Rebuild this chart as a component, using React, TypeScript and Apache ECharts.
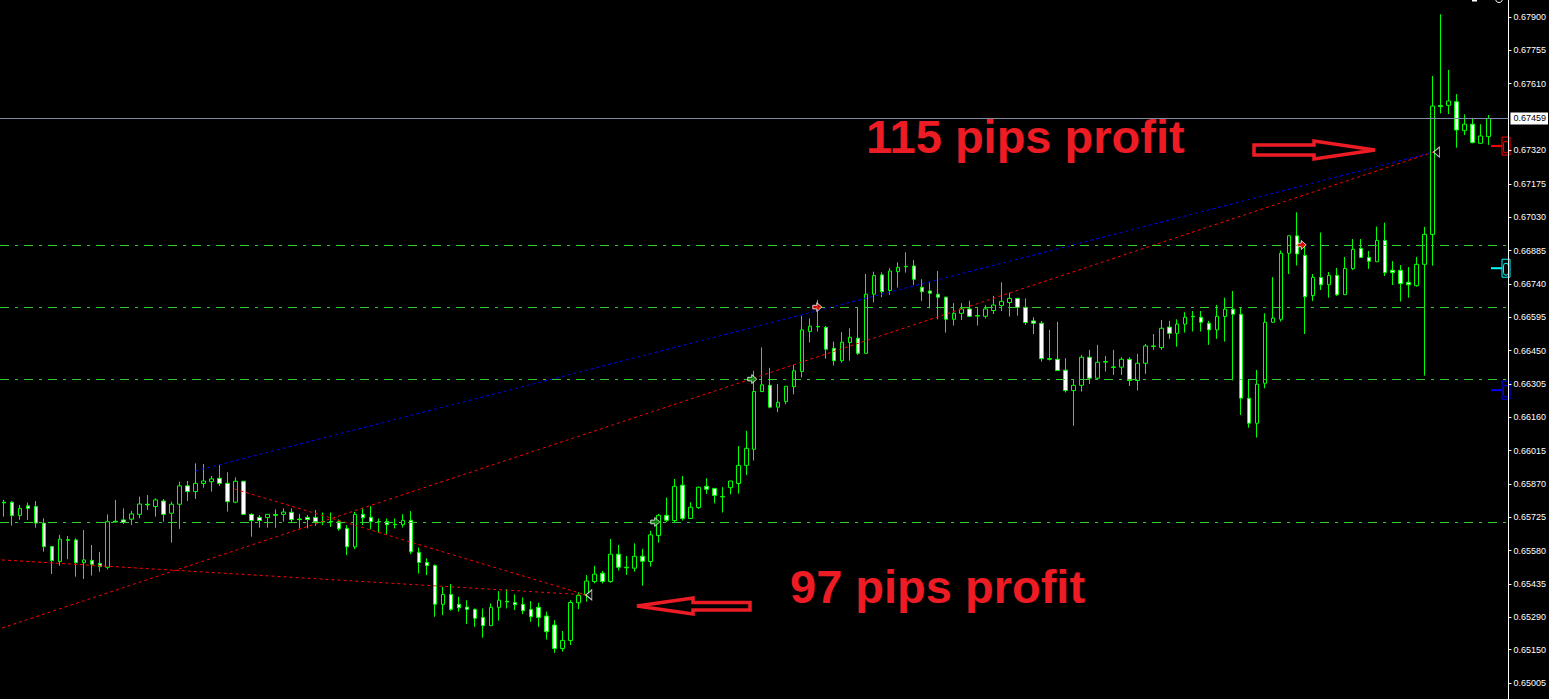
import React, { useEffect, useRef } from "react";
import * as echarts from "echarts";

// ---- candle data (index i = bar number from the left) ----
const opens = [
  0.65791, 0.65791, 0.65733, 0.65775, 0.65772, 0.657, 0.65598, 0.65533, 0.65628, 0.65627,
  0.65528, 0.65538, 0.65525, 0.65508, 0.65708, 0.65714, 0.65717, 0.65738, 0.65782, 0.65772,
  0.65796, 0.65743, 0.65782, 0.65862, 0.65837, 0.65872, 0.6588, 0.65895, 0.65873, 0.65791,
  0.65882, 0.65738, 0.65725, 0.65724, 0.65737, 0.65738, 0.65747, 0.65718, 0.65725, 0.65725,
  0.65707, 0.65707, 0.65707, 0.65677, 0.65597, 0.65738, 0.65725, 0.65707, 0.65707, 0.65695,
  0.65693, 0.65712, 0.65573, 0.65529, 0.65516, 0.65347, 0.6539, 0.65347, 0.65335, 0.65325,
  0.6529, 0.65254, 0.65334, 0.6536, 0.65355, 0.65347, 0.65325, 0.65334, 0.65296, 0.65257,
  0.65155, 0.6519, 0.65354, 0.65387, 0.65446, 0.65482, 0.65446, 0.65565, 0.65508, 0.65504,
  0.65556, 0.65533, 0.65646, 0.65734, 0.65711, 0.65865, 0.6572, 0.65768, 0.6586, 0.65851,
  0.65816, 0.65854, 0.65872, 0.65951, 0.66021, 0.66272, 0.66299, 0.66204, 0.66228, 0.66293,
  0.66359, 0.66533, 0.66555, 0.66551, 0.6646, 0.66406, 0.66485, 0.66504, 0.66438, 0.66695,
  0.66779, 0.66711, 0.66793, 0.66816, 0.66818, 0.66725, 0.66709, 0.66695, 0.66682, 0.66586,
  0.66612, 0.66631, 0.66602, 0.66599, 0.66624, 0.66646, 0.66659, 0.66677, 0.66638, 0.66579,
  0.66569, 0.66415, 0.66412, 0.66365, 0.66276, 0.66299, 0.66421, 0.6633, 0.66402, 0.66379,
  0.66378, 0.66412, 0.6632, 0.66395, 0.6647, 0.66463, 0.66552, 0.66525, 0.66565, 0.66599,
  0.66595, 0.66569, 0.6654, 0.66598, 0.6663, 0.66608, 0.66243, 0.66134, 0.66308, 0.66573,
  0.66586, 0.66873, 0.66949, 0.66864, 0.66689, 0.66768, 0.66736, 0.66777, 0.66693, 0.66806,
  0.66894, 0.66855, 0.66836, 0.66929, 0.66799, 0.66799, 0.66747, 0.66732, 0.66825, 0.66955,
  0.67515, 0.67516, 0.67532, 0.67406, 0.67434, 0.67351, 0.6738,
];
const closes = [
  0.65788, 0.65733, 0.65764, 0.65764, 0.657, 0.65598, 0.65537, 0.6563, 0.65625, 0.65528,
  0.6554, 0.65521, 0.65511, 0.65706, 0.65705, 0.65704, 0.6574, 0.65783, 0.65779, 0.65801,
  0.65738, 0.65782, 0.65862, 0.65837, 0.65873, 0.65883, 0.65892, 0.65873, 0.65793, 0.65882,
  0.65738, 0.65711, 0.65711, 0.65738, 0.65734, 0.65748, 0.65715, 0.65715, 0.65716, 0.65706,
  0.65705, 0.65705, 0.65675, 0.65597, 0.65738, 0.65723, 0.65706, 0.65705, 0.65693, 0.65693,
  0.65712, 0.65575, 0.65529, 0.65515, 0.65347, 0.6539, 0.65325, 0.65332, 0.65325, 0.65286,
  0.65254, 0.65334, 0.65365, 0.65357, 0.65345, 0.65319, 0.65293, 0.6529, 0.65228, 0.65155,
  0.6519, 0.65355, 0.65386, 0.65448, 0.65478, 0.65446, 0.65565, 0.65508, 0.65506, 0.65556,
  0.65534, 0.65649, 0.65734, 0.65712, 0.6586, 0.6572, 0.65769, 0.65856, 0.65847, 0.6582,
  0.65814, 0.65883, 0.65951, 0.66025, 0.66272, 0.66301, 0.66204, 0.66225, 0.66295, 0.66362,
  0.6654, 0.66556, 0.66553, 0.66456, 0.66406, 0.66486, 0.66508, 0.66438, 0.66695, 0.66776,
  0.66706, 0.66796, 0.66812, 0.66814, 0.6676, 0.66706, 0.66699, 0.66682, 0.66586, 0.66612,
  0.66631, 0.66599, 0.666, 0.66631, 0.66648, 0.66664, 0.66677, 0.66638, 0.66572, 0.66569,
  0.66415, 0.66412, 0.66363, 0.66276, 0.66299, 0.66421, 0.6633, 0.66399, 0.664, 0.66377,
  0.66412, 0.6632, 0.66395, 0.6647, 0.66468, 0.66547, 0.66525, 0.66565, 0.66595, 0.66597,
  0.66573, 0.6654, 0.66599, 0.6663, 0.66608, 0.66243, 0.66134, 0.66304, 0.66573, 0.66591,
  0.66873, 0.66949, 0.6687, 0.66684, 0.66768, 0.66736, 0.66777, 0.66693, 0.66807, 0.6689,
  0.66855, 0.66838, 0.66929, 0.66789, 0.66789, 0.66741, 0.66736, 0.66825, 0.66955, 0.67513,
  0.67511, 0.67535, 0.67409, 0.67434, 0.67354, 0.67383, 0.67459,
];
const lows = [
  0.65728, 0.65689, 0.65714, 0.65714, 0.6568, 0.65576, 0.65479, 0.65515, 0.65543, 0.65467,
  0.65457, 0.65472, 0.65489, 0.65499, 0.65702, 0.65696, 0.65692, 0.65721, 0.65757, 0.65728,
  0.65706, 0.65615, 0.65675, 0.65796, 0.65805, 0.65854, 0.65837, 0.65862, 0.6575, 0.65786,
  0.65735, 0.65641, 0.6568, 0.6568, 0.6568, 0.65706, 0.65704, 0.65677, 0.65677, 0.65688,
  0.65691, 0.65684, 0.65667, 0.65561, 0.65587, 0.65691, 0.65673, 0.65658, 0.65652, 0.65677,
  0.65681, 0.65565, 0.65481, 0.65474, 0.65293, 0.653, 0.65319, 0.65315, 0.65261, 0.65249,
  0.65202, 0.65254, 0.65276, 0.65329, 0.65322, 0.65304, 0.65271, 0.65249, 0.65194, 0.65136,
  0.65141, 0.6517, 0.65326, 0.65358, 0.65438, 0.65438, 0.65441, 0.65494, 0.65475, 0.65489,
  0.65428, 0.65511, 0.65615, 0.65704, 0.65704, 0.65711, 0.6572, 0.65762, 0.65827, 0.65786,
  0.65746, 0.65825, 0.65828, 0.65909, 0.65972, 0.66269, 0.66199, 0.66182, 0.66217, 0.6626,
  0.66333, 0.66485, 0.66533, 0.66415, 0.66385, 0.66398, 0.66406, 0.66431, 0.66438, 0.66659,
  0.66682, 0.66692, 0.66724, 0.66789, 0.66735, 0.66666, 0.66634, 0.66586, 0.66528, 0.66559,
  0.66583, 0.66595, 0.66559, 0.6659, 0.66609, 0.66622, 0.66598, 0.66602, 0.66562, 0.66522,
  0.66402, 0.66407, 0.66363, 0.66268, 0.66123, 0.66272, 0.66305, 0.66325, 0.66359, 0.66344,
  0.66344, 0.66296, 0.66276, 0.66349, 0.66453, 0.66453, 0.66501, 0.66467, 0.66528, 0.66533,
  0.66533, 0.66475, 0.66501, 0.66489, 0.6632, 0.6617, 0.66115, 0.66072, 0.66286, 0.66573,
  0.66576, 0.66783, 0.6682, 0.66522, 0.66665, 0.66713, 0.6668, 0.66687, 0.66693, 0.668,
  0.66855, 0.66805, 0.66836, 0.66774, 0.66735, 0.66663, 0.6668, 0.66728, 0.66341, 0.66819,
  0.67481, 0.67478, 0.67332, 0.67387, 0.67351, 0.67351, 0.67344,
];
const highs = [
  0.65801, 0.65796, 0.65779, 0.65789, 0.65796, 0.65721, 0.65601, 0.65649, 0.65644, 0.65634,
  0.6567, 0.65605, 0.65575, 0.65738, 0.65801, 0.65764, 0.65753, 0.65815, 0.65822, 0.65808,
  0.65805, 0.65793, 0.6588, 0.65883, 0.6596, 0.65957, 0.65905, 0.65953, 0.65921, 0.65899,
  0.65882, 0.65743, 0.65735, 0.65738, 0.6576, 0.65764, 0.65764, 0.6574, 0.65735, 0.65757,
  0.65746, 0.65746, 0.65716, 0.65691, 0.65749, 0.65764, 0.65774, 0.6572, 0.6572, 0.6572,
  0.65739, 0.65752, 0.65594, 0.65547, 0.6552, 0.65423, 0.65435, 0.6538, 0.65365, 0.65329,
  0.65329, 0.65351, 0.65404, 0.65413, 0.6539, 0.65377, 0.65361, 0.65354, 0.65315, 0.65278,
  0.65231, 0.65365, 0.65399, 0.65474, 0.65514, 0.65492, 0.65631, 0.65605, 0.65557, 0.65612,
  0.65588, 0.65667, 0.6574, 0.65811, 0.65892, 0.65905, 0.65791, 0.65859, 0.65895, 0.65851,
  0.65856, 0.65883, 0.66035, 0.66101, 0.66362, 0.66464, 0.66375, 0.66305, 0.66295, 0.66388,
  0.66601, 0.6659, 0.6667, 0.66557, 0.66489, 0.6653, 0.66547, 0.66638, 0.66783, 0.66793,
  0.6679, 0.66808, 0.66834, 0.66877, 0.66844, 0.6676, 0.66746, 0.66796, 0.66685, 0.66656,
  0.66656, 0.66667, 0.66634, 0.66648, 0.66688, 0.66747, 0.66702, 0.66677, 0.66677, 0.66595,
  0.66579, 0.6654, 0.66575, 0.66417, 0.66325, 0.66431, 0.66453, 0.66475, 0.66427, 0.66453,
  0.66421, 0.66421, 0.66436, 0.66479, 0.66522, 0.66583, 0.66579, 0.66586, 0.66617, 0.66622,
  0.66622, 0.66579, 0.66649, 0.6668, 0.66709, 0.66638, 0.66325, 0.66366, 0.66612, 0.66769,
  0.66885, 0.66949, 0.67051, 0.66909, 0.66783, 0.66963, 0.66792, 0.66809, 0.66857, 0.66935,
  0.66935, 0.66883, 0.66989, 0.67006, 0.66839, 0.66822, 0.66813, 0.66857, 0.66988, 0.67644,
  0.67912, 0.6767, 0.67565, 0.67477, 0.67462, 0.67434, 0.67474,
];

// ---- axis / levels ----
const slotCount = 189;
const priceTicks = [
  0.679, 0.67755, 0.6761, 0.6732, 0.67175, 0.6703, 0.66885, 0.6674, 0.66595, 0.6645,
  0.66305, 0.6616, 0.66015, 0.6587, 0.65725, 0.6558, 0.65435, 0.6529, 0.6515, 0.65005,
];
const priceMin = 0.649354;
const priceMax = 0.67974;
const bidPrice = 0.67459;
const levelPrices = [0.66909, 0.66639, 0.66325, 0.65704];

// ---- trades (bar index, price) ----
const redTradeA = [[-0.25, 0.6554], [72.9, 0.65388]];
const redTradeB = [[28.9, 0.65848], [72.9, 0.65388]];
const redTradeC = [[-0.25, 0.65244], [179.1, 0.67313]];
const blueTrade = [[24, 0.65927], [179.1, 0.67313]];
const openMarksGreen = [[81.6, 0.65705], [93.75, 0.66326]];
const openMarksRed = [[101.9, 0.66639], [162.6, 0.66909]];
const closeMarks = [[72.9, 0.65388], [179.1, 0.67313]];
const priceTags = [
  { price: 0.67339, color: "#ff0000" },
  { price: 0.66808, color: "#00ffff" },
  { price: 0.66278, color: "#0000ff" },
];

const GREEN = "#00ff00";
const LEVEL_GREEN = "#32cd32";
const RED_TEXT = "#ed1c24";
const AXIS_FONT = "Arial, 'Liberation Sans', sans-serif";
const arrowRight = "path://M0,3 L4,3 L4,0 L9,5 L4,10 L4,7 L0,7 Z";
const arrowLeft = "path://M8,0 L0,5 L8,10 Z";

export default function App() {
  const ref = useRef<HTMLDivElement>(null);

  useEffect(() => {
    document.body.style.margin = "0";
    document.body.style.background = "#000";
    const chart = echarts.init(ref.current as HTMLDivElement, null, { renderer: "svg" });

    const candles = opens.map((o, i) => [o, closes[i], lows[i], highs[i]]);
    const slots = Array.from({ length: slotCount }, (_, i) => String(i));

    const tradeSeries = (data: number[][], color: string) => ({
      type: "line",
      xAxisIndex: 1,
      yAxisIndex: 0,
      data,
      showSymbol: false,
      silent: true,
      lineStyle: { color, width: 1, type: [3, 3] },
      z: 3,
    });

    const levelMarkLine = {
      silent: true,
      precision: 5,
      symbol: ["none", "none"],
      data: [
        ...levelPrices.map((v) => ({
          yAxis: v,
          lineStyle: { color: LEVEL_GREEN, type: [9, 6, 3, 6], width: 1 },
          label: { show: false },
        })),
        {
          yAxis: bidPrice,
          lineStyle: { color: "#7f8aa0", type: "solid", width: 1 },
          label: {
            show: true,
            position: "end",
            distance: 2,
            formatter: bidPrice.toFixed(5),
            color: "#000000",
            backgroundColor: "#ffffff",
            padding: [2, 2, 1, 3],
            fontSize: 9,
            fontFamily: AXIS_FONT,
          },
        },
      ],
    };

    chart.setOption({
      animation: false,
      backgroundColor: "#000000",
      grid: { left: -2, right: 39, top: 0, bottom: 0 },
      xAxis: [
        { type: "category", data: slots, show: false, boundaryGap: true },
        { type: "value", min: -0.5, max: 188.5, show: false },
      ],
      yAxis: {
        type: "value",
        position: "right",
        min: priceMin,
        max: priceMax,
        splitLine: { show: false },
        axisLine: { show: true, onZero: false, lineStyle: { color: "#ffffff", width: 1 } },
        axisTick: { show: true, customValues: priceTicks, length: 3, lineStyle: { color: "#ffffff" } },
        axisLabel: {
          customValues: priceTicks,
          formatter: (v: number) => v.toFixed(5),
          color: "#ffffff",
          fontSize: 9,
          fontFamily: AXIS_FONT,
          margin: 5,
        },
      },
      series: [
        {
          type: "line",
          xAxisIndex: 1,
          yAxisIndex: 0,
          data: [[-0.5, bidPrice]],
          showSymbol: false,
          silent: true,
          lineStyle: { width: 0 },
          z: 1,
          markLine: levelMarkLine,
        },
        {
          type: "candlestick",
          xAxisIndex: 0,
          yAxisIndex: 0,
          data: candles,
          barWidth: 4,
          silent: true,
          z: 2,
          itemStyle: {
            color: "#000000",
            color0: "#ffffff",
            borderColor: GREEN,
            borderColor0: GREEN,
            borderWidth: 1,
          },
        },
        tradeSeries(redTradeA, "#ff0000"),
        tradeSeries(redTradeB, "#ff0000"),
        tradeSeries(redTradeC, "#ff0000"),
        tradeSeries(blueTrade, "#0000ff"),
        {
          type: "scatter",
          xAxisIndex: 1,
          data: openMarksGreen,
          symbol: arrowRight,
          symbolSize: [9, 9],
          silent: true,
          z: 5,
          itemStyle: { color: "#0a8a0a", borderColor: "#ffffff", borderWidth: 1 },
        },
        {
          type: "scatter",
          xAxisIndex: 1,
          data: openMarksRed,
          symbol: arrowRight,
          symbolSize: [9, 9],
          silent: true,
          z: 5,
          itemStyle: { color: "#ff0000", borderColor: "#ffffff", borderWidth: 1 },
        },
        {
          type: "scatter",
          xAxisIndex: 1,
          data: closeMarks,
          symbol: arrowLeft,
          symbolSize: [6, 10],
          symbolOffset: [3, 0],
          silent: true,
          z: 5,
          itemStyle: { color: "#000000", borderColor: "#ffffff", borderWidth: 1 },
        },
      ],
    });

    const tagGraphics: any[] = [];
    priceTags.forEach((t) => {
      const y = chart.convertToPixel({ yAxisIndex: 0 }, t.price) as number;
      tagGraphics.push(
        { type: "line", shape: { x1: 1491, y1: y, x2: 1502, y2: y }, style: { stroke: t.color, lineWidth: 2 }, silent: true },
        { type: "rect", shape: { x: 1502, y: y - 9, width: 8, height: 18 }, style: { fill: "none", stroke: t.color, lineWidth: 1 }, silent: true },
        { type: "rect", shape: { x: 1503.5, y: y - 5, width: 5, height: 12, r: 2.5 }, style: { fill: "none", stroke: t.color, lineWidth: 1 }, silent: true }
      );
    });

    const textStyle = (text: string) => ({
      text,
      fill: RED_TEXT,
      font: "bold 47px Arial, 'Liberation Sans', sans-serif",
      textAlign: "left",
      align: "left",
      textVerticalAlign: "middle",
      verticalAlign: "middle",
    });

    chart.setOption({
      graphic: [
        { type: "text", x: 866, y: 136, style: textStyle("115 pips profit"), silent: true, z: 10 },
        { type: "text", x: 790, y: 586, style: textStyle("97 pips profit"), silent: true, z: 10 },
        {
          type: "polygon",
          shape: { points: [[1254, 145], [1314, 145], [1314, 141], [1375, 150], [1314, 159], [1314, 155], [1254, 155]] },
          style: { fill: "none", stroke: RED_TEXT, lineWidth: 3.5 },
          silent: true,
          z: 10,
        },
        {
          type: "polygon",
          shape: { points: [[637, 606], [693, 598], [693, 602.5], [750, 602.5], [750, 610], [693, 610], [693, 614]] },
          style: { fill: "none", stroke: RED_TEXT, lineWidth: 3.5 },
          silent: true,
          z: 10,
        },
        { type: "rect", shape: { x: 1472, y: 0, width: 5, height: 1.5 }, style: { fill: "#ffffff" }, silent: true },
        { type: "circle", shape: { cx: 1499, cy: -1, r: 3.5 }, style: { fill: "none", stroke: "#ffffff", lineWidth: 1 }, silent: true },
        ...tagGraphics,
      ],
    });

    return () => chart.dispose();
  }, []);

  return (
    <div
      ref={ref}
      style={{ position: "absolute", left: 0, top: 0, width: 1549, height: 699, background: "#000" }}
    />
  );
}
